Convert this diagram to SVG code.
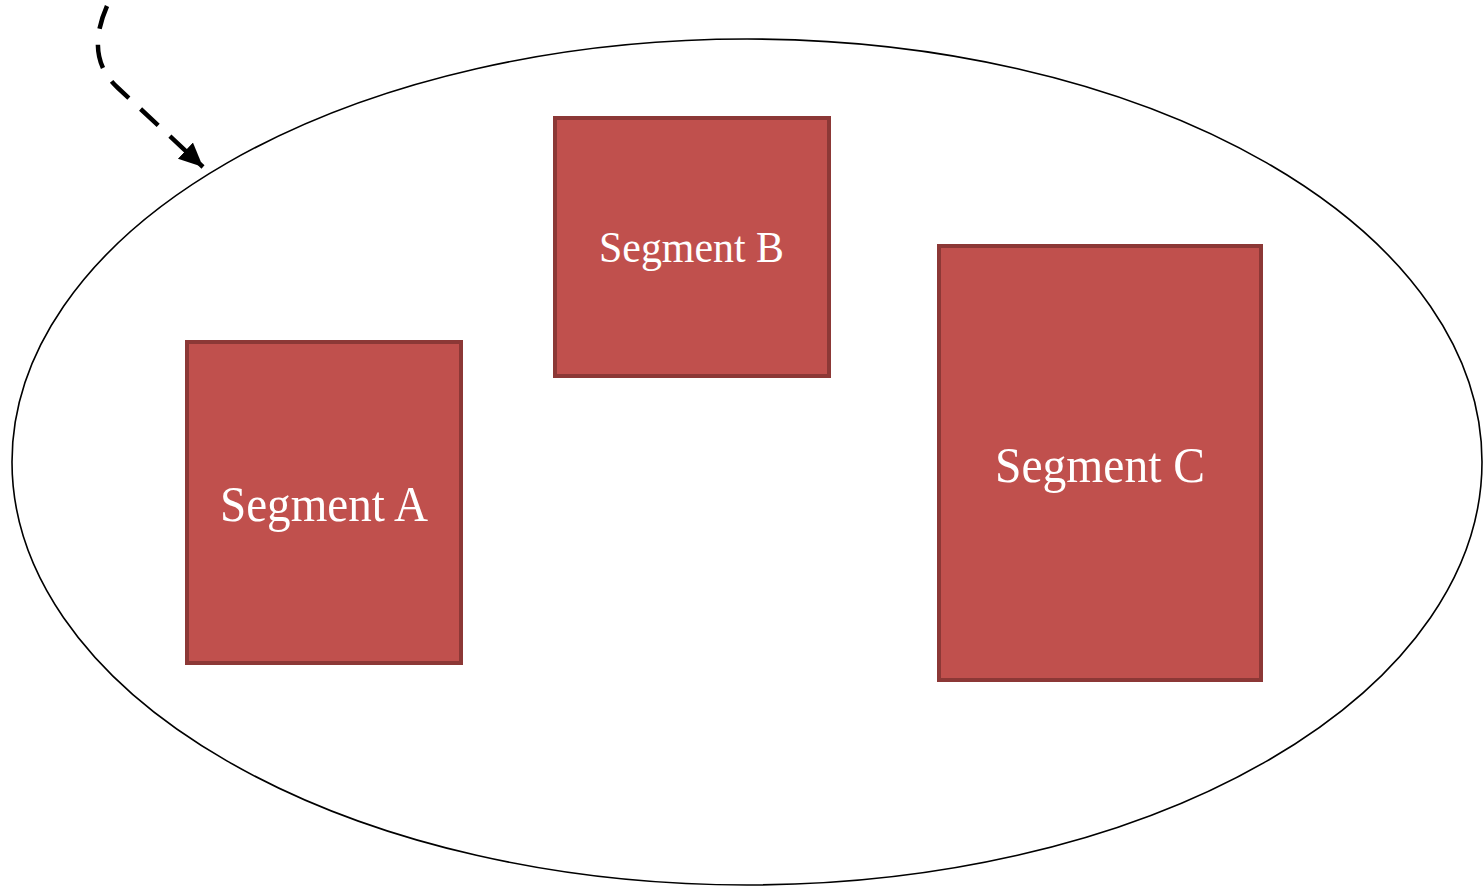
<svg xmlns="http://www.w3.org/2000/svg" width="1483" height="887" viewBox="0 0 1483 887">
  <style>
    .seg rect { fill: #c0504d; stroke: #8c3836; stroke-width: 4; }
    .seg text { fill: #ffffff; font-family: "Liberation Serif", "Times New Roman", serif; text-anchor: middle; }
    .frame { fill: #ffffff; stroke: #000000; stroke-width: 1.6; }
    .link { fill: none; stroke: #000000; stroke-width: 4.5; stroke-dasharray: 24 16; }
  </style>
  <defs>
    <marker id="head" markerUnits="userSpaceOnUse" markerWidth="30" markerHeight="30" refX="24" refY="11" orient="auto" viewBox="0 0 30 22">
      <path d="M0,0 L24,11 L0,22 z" fill="#000000"/>
    </marker>
  </defs>
  <rect width="1483" height="887" fill="#ffffff"/>

  <!-- outer boundary -->
  <g id="boundary">
    <ellipse class="frame" cx="747" cy="462" rx="735" ry="423"/>
  </g>

  <g id="segment-a" class="seg">
    <rect x="187" y="342" width="274" height="321"/>
    <text x="324" y="521" font-size="50" textLength="208" lengthAdjust="spacingAndGlyphs">Segment A</text>
  </g>

  <g id="segment-b" class="seg">
    <rect x="555" y="118" width="274" height="258"/>
    <text x="691.5" y="262" font-size="45" textLength="185" lengthAdjust="spacingAndGlyphs">Segment B</text>
  </g>

  <g id="segment-c" class="seg">
    <rect x="939" y="246" width="322" height="434"/>
    <text x="1100" y="482" font-size="50" textLength="210" lengthAdjust="spacingAndGlyphs">Segment C</text>
  </g>

  <g id="connectors">
    <path class="link" d="M107,6 C93,38 94,66 118,88 L203,167" marker-end="url(#head)"/>
  </g>
</svg>
